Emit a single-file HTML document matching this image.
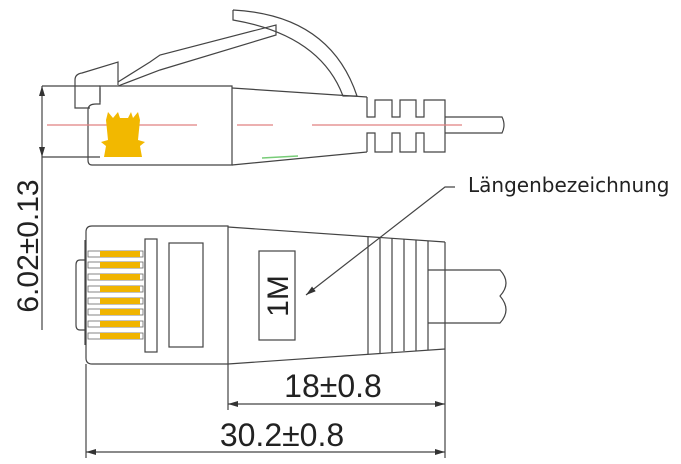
<!DOCTYPE html>
<html><head><style>html,body{margin:0;padding:0;background:#fff}svg{display:block}</style></head>
<body>
<svg width="681" height="464" viewBox="0 0 681 464" xmlns="http://www.w3.org/2000/svg" font-family="Liberation Sans, sans-serif">
<defs><marker id="a" markerWidth="10" markerHeight="6" refX="10" refY="3" orient="auto-start-reverse" markerUnits="userSpaceOnUse"><path d="M0,0 L10,3 L0,6 z" fill="#333"/></marker></defs>
<g fill="none" stroke="#444" stroke-width="1.2">
<line x1="42" y1="86" x2="100" y2="86"/><line x1="42" y1="157" x2="100" y2="157"/>
<line x1="42" y1="86" x2="42" y2="157" marker-start="url(#a)" marker-end="url(#a)"/>
<line x1="42" y1="157" x2="42" y2="330"/>
<path d="M75,80 Q75,74 82,73 L118,62 L118,85"/>
<path d="M75,80 L75,108 L90,108"/>
<path d="M100,88 L100,102"/>
<path d="M118,82 L150,62 L160,55 L276,25 L276,35 L160,70 L118,86"/>
<path d="M233,10 L233,20 Q320,35 343,96 L357,96 Q330,15 233,10"/>
<path d="M88,110 Q88,104 96,104 L100,104 L100,86 L232,86 L232,165 L92,165 Q88,165 88,160 Z"/>
<path d="M232,88 L367,97 M232,165 L367,152"/>
<path d="M367,97 L367,117 L375,117 L375,100 L392,100 L392,117 L400,117 L400,100 L416,100 L416,117 L424,117 L424,100 L445,100 L445,152 L424,152 L424,133 L416,133 L416,152 L400,152 L400,133 L392,133 L392,152 L375,152 L375,133 L367,133 L367,152"/>
<path d="M445,117 L502,117 Q506,125 502,133 L445,133"/>
<path d="M86,232 Q86,226 92,226 L228,226 L228,364 L92,364 Q86,364 86,358 Z"/>
<path d="M228,227 L445,242 M228,364 L445,349"/>
<path d="M368,236 L368,354 M380,237 L380,353 M392,238 L392,352 M404,239 L404,351 M416,240 L416,351 M428,241 L428,350 M445,242 L445,349"/>
<path d="M428,270 L500,270 Q512,283 500,296 Q512,310 500,323 L428,323"/>
<path d="M85,240 L85,345"/>
<path d="M85,260 L80,260 Q76,260 76,265 L76,325 Q76,330 80,330 L85,330"/>
<rect x="145" y="239" width="12" height="113"/>
<rect x="169" y="243" width="34" height="104"/>
<rect x="259" y="251" width="36" height="89"/>
<line x1="228" y1="364" x2="228" y2="410"/><line x1="445" y1="349" x2="445" y2="458"/><line x1="86" y1="364" x2="86" y2="458"/>
<line x1="228" y1="404" x2="445" y2="404" marker-start="url(#a)" marker-end="url(#a)"/>
<line x1="86" y1="452" x2="445" y2="452" marker-start="url(#a)" marker-end="url(#a)"/>
<path d="M455,187 L445,187 L306,295" marker-end="url(#a)"/>
</g>
<g stroke="#e08080" stroke-width="1.2"><line x1="47" y1="125" x2="197" y2="125"/><line x1="237" y1="125" x2="273" y2="125"/><line x1="312" y1="125" x2="462" y2="125"/></g>
<line x1="262" y1="158" x2="298" y2="156" stroke="#7c7" stroke-width="1.5"/>
<path d="M108,112 L113,118 L118,112 L120,118 L128,118 L131,112 L133,118 L138,112 L140,120 L138,140 L145,142 L140,146 L142,157 L104,157 L106,146 L101,142 L108,140 L106,120 Z" fill="#f2b800"/>
<g fill="#fff" stroke="#666" stroke-width="0.8">
<rect x="88" y="251" width="55" height="6"/><rect x="88" y="262" width="55" height="6"/><rect x="88" y="274" width="55" height="6"/><rect x="88" y="286" width="55" height="6"/><rect x="88" y="298" width="55" height="6"/><rect x="88" y="309" width="55" height="6"/><rect x="88" y="321" width="55" height="6"/><rect x="88" y="333" width="55" height="6"/>
</g>
<g fill="#f0b400">
<rect x="100" y="251" width="40" height="6"/><rect x="100" y="262" width="40" height="6"/><rect x="100" y="274" width="40" height="6"/><rect x="100" y="286" width="40" height="6"/><rect x="100" y="298" width="40" height="6"/><rect x="100" y="309" width="40" height="6"/><rect x="100" y="321" width="40" height="6"/><rect x="100" y="333" width="40" height="6"/>
</g>
<g fill="#222">
<text x="0" y="0" font-size="30" text-anchor="middle" transform="translate(38,246) rotate(-90)">6.02±0.13</text>
<text x="0" y="0" font-size="30" text-anchor="middle" transform="translate(288,296) rotate(-90)">1M</text>
<text x="333" y="397" font-size="32" text-anchor="middle">18±0.8</text>
<text x="282" y="446" font-size="32" text-anchor="middle">30.2±0.8</text>
<text x="468" y="192" font-size="20" font-family="DejaVu Sans, sans-serif">Längenbezeichnung</text>
</g>
</svg>
</body></html>
